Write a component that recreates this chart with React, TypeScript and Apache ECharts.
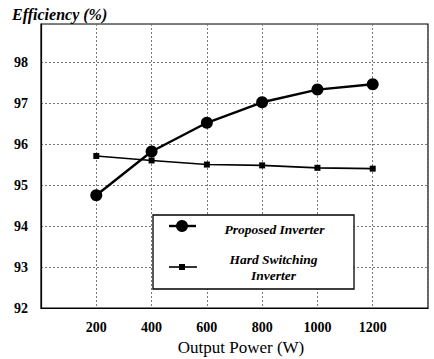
import React, { useEffect, useRef } from "react";
import * as echarts from "echarts";

const powerW = [200, 400, 600, 800, 1000, 1200];
const proposedEff = [94.75, 95.82, 96.52, 97.02, 97.33, 97.46];
const hardSwitchEff = [95.71, 95.6, 95.5, 95.48, 95.42, 95.4];
const seriesNames = ["Proposed Inverter", "Hard Switching Inverter"];
const yTitle = "Efficiency (%)";
const xTitle = "Output Power (W)";

const SERIF = "Liberation Serif";

export default function App() {
  const ref = useRef<HTMLDivElement>(null);
  useEffect(() => {
    if (!ref.current) return;
    const chart = echarts.init(ref.current, null, { renderer: "svg" });
    const gridLeft = 41, gridTop = 24, gridRight = 6, gridBottom = 51;
    chart.setOption({
      animation: false,
      backgroundColor: "#ffffff",
      textStyle: { fontFamily: SERIF },
      grid: {
        left: gridLeft, top: gridTop, right: gridRight, bottom: gridBottom,
        show: true, borderColor: "#000", borderWidth: 1.2,
        outerBoundsMode: "none",
      },
      xAxis: {
        type: "value", min: 0, max: 1400, interval: 200,
        name: xTitle, nameLocation: "middle", nameGap: 30,
        nameTextStyle: { fontFamily: SERIF, fontSize: 17, color: "#000", padding: [0, 0, 0, 13] },
        axisLine: { show: true, lineStyle: { color: "#000", width: 1.2 } },
        axisTick: { show: false },
        axisLabel: {
          margin: 12, fontFamily: SERIF, fontWeight: "bold", fontSize: 14, color: "#000",
          formatter: (v: number) => (v === 0 || v === 1400 ? "" : String(v)),
        },
        splitLine: { show: true, lineStyle: { color: "#777", type: [2, 2], width: 1 } },
      },
      yAxis: {
        type: "value", min: 92, max: 98.93, interval: 1,
        axisLine: { show: true, lineStyle: { color: "#000", width: 1.2 } },
        axisTick: { show: false },
        axisLabel: {
          margin: 13, fontFamily: SERIF, fontWeight: "bold", fontSize: 14, color: "#000",
          showMaxLabel: false,
          formatter: (v: number) => (Number.isInteger(v) ? String(v) : ""),
        },
        splitLine: { show: true, lineStyle: { color: "#777", type: [2, 2], width: 1 } },
      },
      series: [
        {
          name: seriesNames[0], type: "line",
          data: powerW.map((x, i) => [x, proposedEff[i]]),
          symbol: "circle", symbolSize: 12,
          itemStyle: { color: "#000" },
          lineStyle: { color: "#000", width: 2.4 },
          z: 3,
        },
        {
          name: seriesNames[1], type: "line",
          data: powerW.map((x, i) => [x, hardSwitchEff[i]]),
          symbol: "rect", symbolSize: 6,
          itemStyle: { color: "#000" },
          lineStyle: { color: "#000", width: 1.6 },
          z: 2,
        },
      ],
      graphic: [
        {
          type: "text", left: 12, top: 6,
          style: { text: yTitle, fontFamily: SERIF, fontStyle: "italic", fontWeight: "bold", fontSize: 16, fill: "#000" },
        },
        {
          type: "rect", shape: { x: 153, y: 215, width: 201, height: 74 },
          style: { fill: "#fff", stroke: "#000", lineWidth: 1.3 }, z: 10,
        },
        {
          type: "line", shape: { x1: 169, y1: 226, x2: 196, y2: 226 },
          style: { stroke: "#000", lineWidth: 2.4 }, z: 11,
        },
        {
          type: "circle", shape: { cx: 182, cy: 226, r: 6 },
          style: { fill: "#000" }, z: 11,
        },
        {
          type: "text", x: 274.5, y: 229,
          style: { text: "Proposed Inverter", fontFamily: SERIF, fontStyle: "italic", fontWeight: "bold", fontSize: 13.5, fill: "#000", align: "center", verticalAlign: "middle" },
          z: 11,
        },
        {
          type: "line", shape: { x1: 169, y1: 267, x2: 197, y2: 267 },
          style: { stroke: "#000", lineWidth: 1.6 }, z: 11,
        },
        {
          type: "rect", shape: { x: 179, y: 264, width: 6, height: 6 },
          style: { fill: "#000" }, z: 11,
        },
        {
          type: "text", x: 273.5, y: 267,
          style: { text: "Hard Switching\nInverter", fontFamily: SERIF, fontStyle: "italic", fontWeight: "bold", fontSize: 13.5, fill: "#000", align: "center", verticalAlign: "middle", lineHeight: 16 },
          z: 11,
        },
      ],
    });
    return () => chart.dispose();
  }, []);
  return <div ref={ref} style={{ position: "fixed", left: 0, top: 0, width: 434, height: 359 }} />;
}
